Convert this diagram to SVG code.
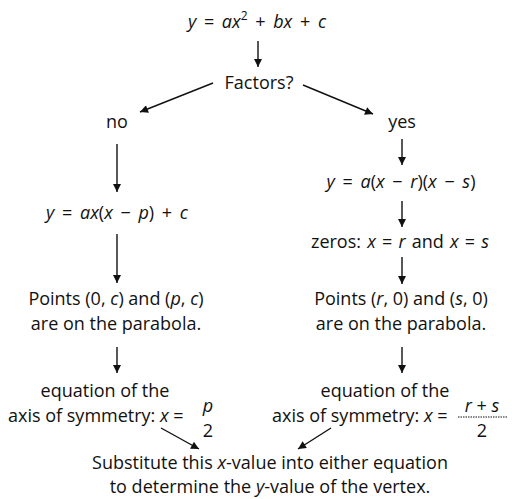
<svg xmlns="http://www.w3.org/2000/svg" width="523" height="499" viewBox="0 0 523 499">
<style>
text{font-family:"Open Sans","Noto Sans","Liberation Sans",sans-serif;font-size:18px;fill:#111}
.m{text-anchor:middle}
.i{font-style:italic}
.f{word-spacing:3px}
.c line{stroke:#111;stroke-width:1.4;fill:none}
</style>
<defs>
<marker id="ah" viewBox="0 0 10 10" refX="10" refY="5" markerWidth="9" markerHeight="8" markerUnits="userSpaceOnUse" orient="auto">
<path d="M0,0 L10,5 L0,10 z" fill="#111"/>
</marker>
</defs>
<rect width="523" height="499" fill="#fff"/>
<g class="c">
<line x1="258" y1="41" x2="258" y2="67" marker-end="url(#ah)"/>
<line x1="213" y1="83" x2="140" y2="112" marker-end="url(#ah)"/>
<line x1="303" y1="85" x2="373" y2="114" marker-end="url(#ah)"/>
<line x1="117" y1="144" x2="117" y2="192" marker-end="url(#ah)"/>
<line x1="117" y1="234" x2="117" y2="283" marker-end="url(#ah)"/>
<line x1="117" y1="347" x2="117" y2="373" marker-end="url(#ah)"/>
<line x1="161" y1="428" x2="199" y2="449" marker-end="url(#ah)"/>
<line x1="402" y1="139" x2="402" y2="165" marker-end="url(#ah)"/>
<line x1="402" y1="201" x2="402" y2="227" marker-end="url(#ah)"/>
<line x1="402" y1="257" x2="402" y2="284" marker-end="url(#ah)"/>
<line x1="402" y1="347" x2="402" y2="373" marker-end="url(#ah)"/>
<line x1="331" y1="428" x2="298" y2="449" marker-end="url(#ah)"/>
</g>
<g id="start"><text class="m f" x="257" y="28" font-size="19.5"><tspan class="i">y</tspan> = <tspan class="i">ax</tspan><tspan font-size="12" dy="-8">2</tspan><tspan dy="8"> + </tspan><tspan class="i">bx</tspan> + <tspan class="i">c</tspan></text></g>
<g id="factors"><text class="m" x="259" y="89" font-size="19.5">Factors?</text></g>
<g id="no"><text class="m" x="117" y="128">no</text></g>
<g id="yes"><text class="m" x="402" y="128">yes</text></g>
<g id="formNo"><text class="m f" x="117" y="219"><tspan class="i">y</tspan> = <tspan class="i">ax</tspan>(<tspan class="i">x</tspan> − <tspan class="i">p</tspan>) + <tspan class="i">c</tspan></text></g>
<g id="formYes"><text class="m f" x="401" y="188"><tspan class="i">y</tspan> = <tspan class="i">a</tspan>(<tspan class="i">x</tspan> − <tspan class="i">r</tspan>)(<tspan class="i">x</tspan> − <tspan class="i">s</tspan>)</text></g>
<g id="zeros"><text class="m" x="400" y="248" word-spacing="1.5">zeros: <tspan class="i">x</tspan> = <tspan class="i">r</tspan> and <tspan class="i">x</tspan> = <tspan class="i">s</tspan></text></g>
<g id="pointsNo"><text class="m" x="116" y="305">Points (0, <tspan class="i">c</tspan>) and (<tspan class="i">p</tspan>, <tspan class="i">c</tspan>)</text><text class="m" x="116" y="330">are on the parabola.</text></g>
<g id="pointsYes"><text class="m" x="401" y="305">Points (<tspan class="i">r</tspan>, 0) and (<tspan class="i">s</tspan>, 0)</text><text class="m" x="401" y="330">are on the parabola.</text></g>
<g id="axisNo"><text class="m" x="105" y="397">equation of the</text><text x="8" y="422">axis of symmetry: <tspan class="i">x</tspan> =</text><text class="m i" x="208" y="412">p</text><text class="m" x="208" y="437">2</text></g>
<g id="axisYes"><text class="m" x="385" y="397">equation of the</text><text x="272" y="422">axis of symmetry: <tspan class="i">x</tspan> =</text><text class="m" x="482" y="412"><tspan class="i">r</tspan> + <tspan class="i">s</tspan></text><line x1="458" y1="417" x2="507" y2="417" stroke="#111" stroke-width="1" stroke-dasharray="1.5,1"/><text class="m" x="482" y="437">2</text></g>
<g id="vertex"><text class="m" x="270" y="469">Substitute this <tspan class="i">x</tspan>-value into either equation</text><text class="m" x="270" y="493">to determine the <tspan class="i">y</tspan>-value of the vertex.</text></g>
</svg>
